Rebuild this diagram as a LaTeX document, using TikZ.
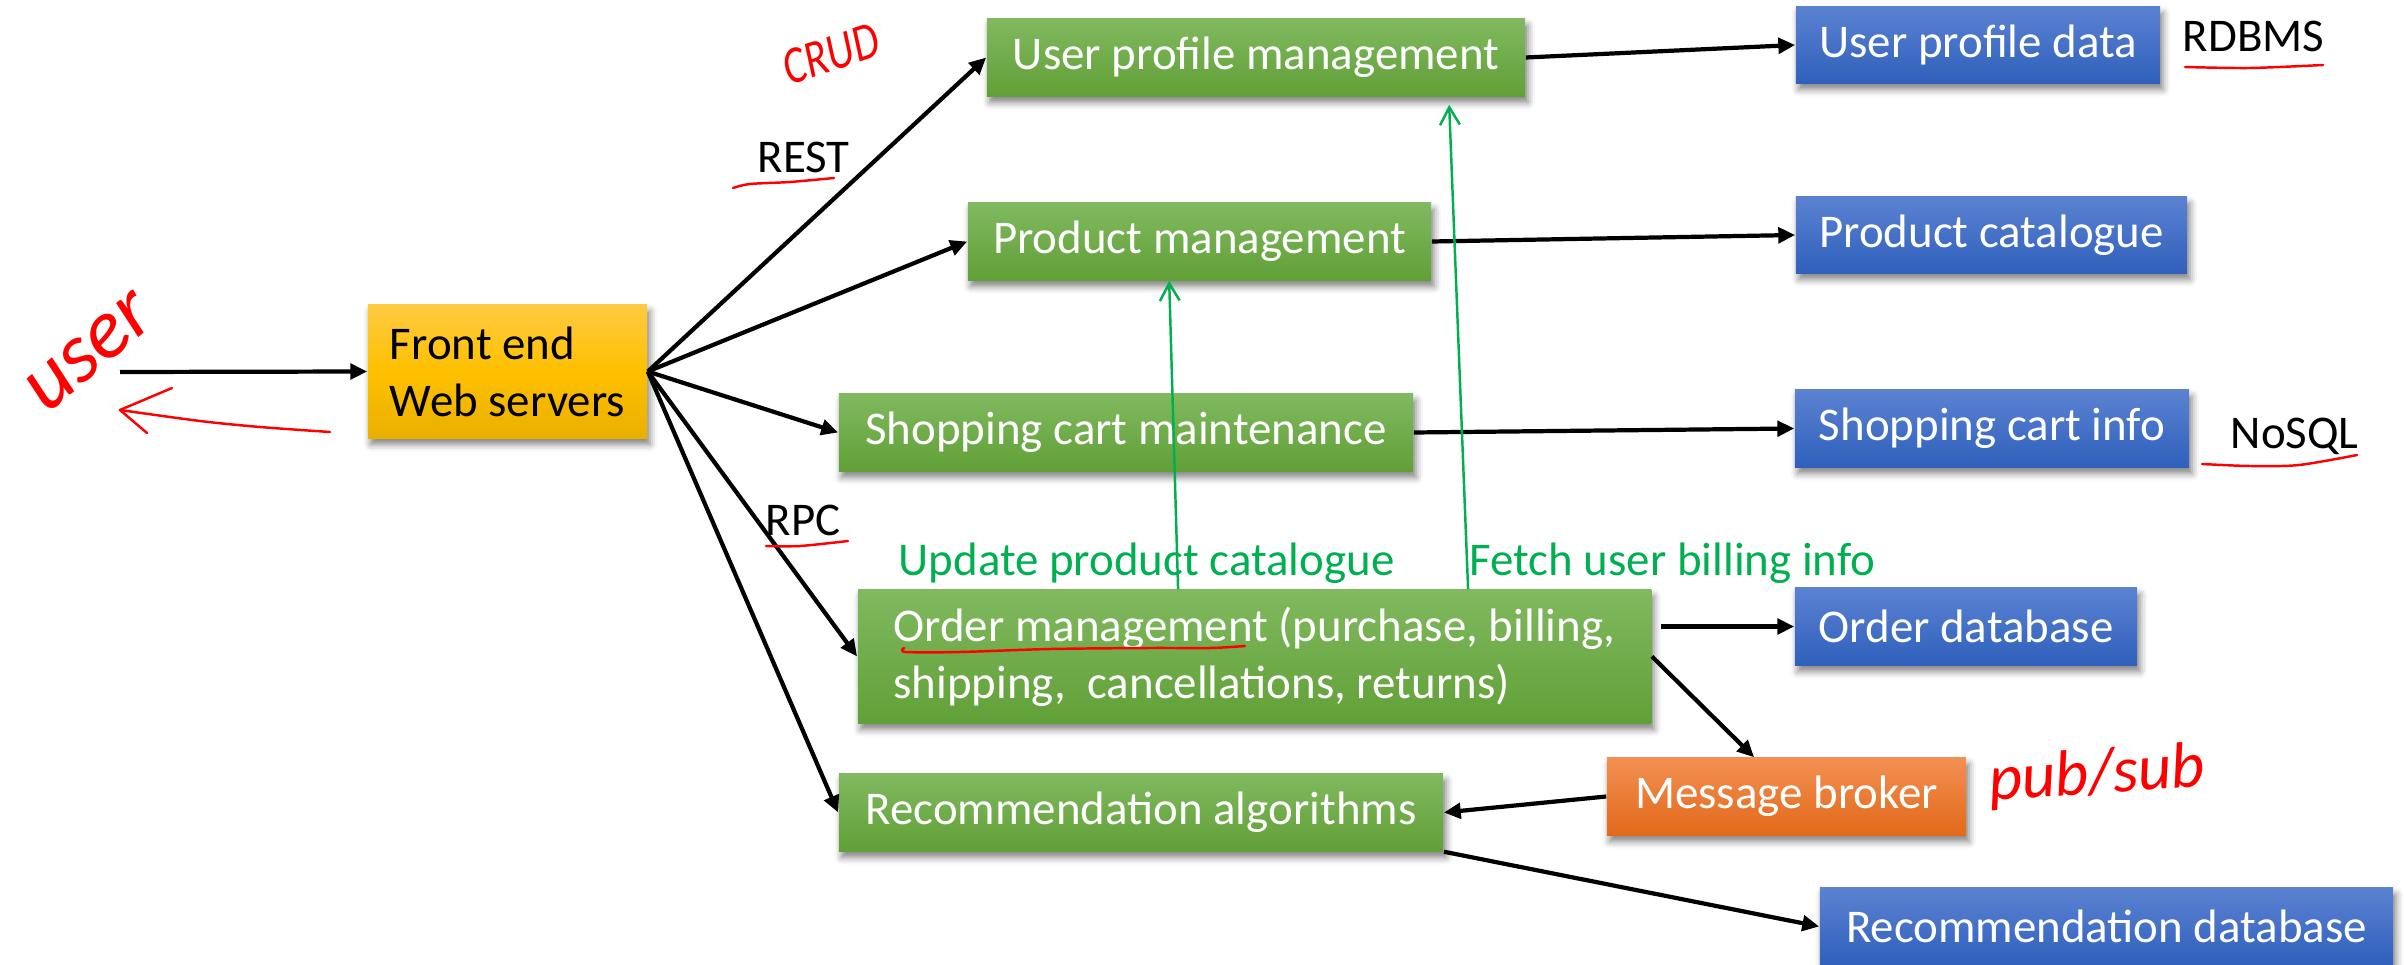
\documentclass[tikz,border=0pt]{standalone}
\usepackage{fontspec}
\setmainfont{Carlito}
\usetikzlibrary{arrows.meta,calc,shadows.blur}

\definecolor{ytop}{HTML}{FFCA42}
\definecolor{ymid}{HTML}{FFC000}
\definecolor{ybot}{HTML}{E9B000}
\definecolor{gtop}{HTML}{80B95F}
\definecolor{gbot}{HTML}{61A037}
\definecolor{btop}{HTML}{5B82D1}
\definecolor{bbot}{HTML}{2F60BC}
\definecolor{otop}{HTML}{F29052}
\definecolor{obot}{HTML}{E2691A}
\definecolor{notegreen}{HTML}{00B050}
\definecolor{pen}{HTML}{FF0000}

\newcommand{\boxfont}{\fontsize{13.34pt}{16.2pt}\selectfont}

\tikzset{
  box/.style={rectangle, inner sep=0pt, text=white, font=\boxfont,
    blur shadow={shadow xshift=0.8pt, shadow yshift=-1.8pt,
                 shadow blur radius=2pt, shadow opacity=50}},
  yellowbox/.style={box, text=black, top color=ytop, bottom color=ybot, middle color=ymid},
  greenbox/.style={box, top color=gtop, bottom color=gbot},
  bluebox/.style={box, top color=btop, bottom color=bbot},
  orangebox/.style={box, top color=otop, bottom color=obot},
  flow/.style={line width=1.2pt, -{Triangle[length=4.8pt,width=4.4pt]}},
  uses/.style={notegreen, line width=0.7pt, -{Straight Barb[length=5pt,width=5.6pt]}},
  tag/.style={inner sep=0pt, anchor=base west, font=\boxfont},
  greentag/.style={tag, text=notegreen},
  ink/.style={pen, line width=0.7pt, line cap=round, line join=round},
  scribble/.style={inner sep=0pt, text=pen, font=\itshape},
}

\begin{document}
\begin{tikzpicture}[x=0.01cm, y=-0.01cm]
\useasboundingbox (0,0) rectangle (2404,964);

% services and stores
\node[yellowbox, minimum width=2.79cm, minimum height=1.33cm, align=left] (fe) at (507.5,371.5) {Front end\\Web servers};
\node[greenbox, minimum width=5.38cm, minimum height=0.77cm] (upm) at (1256,57.5) {User profile management};
\node[greenbox, minimum width=4.63cm, minimum height=0.77cm] (pm) at (1199.5,241.5) {Product management};
\node[greenbox, minimum width=5.74cm, minimum height=0.77cm] (scm) at (1126,432.5) {Shopping cart maintenance};
\node[greenbox, minimum width=7.93cm, minimum height=1.33cm, align=left] (om) at (1254.5,656.5) {Order management (purchase, billing,\\shipping,\ \ cancellations, returns)};
\node[greenbox, minimum width=6.04cm, minimum height=0.77cm] (ra) at (1141,812.5) {Recommendation algorithms};
\node[bluebox, minimum width=3.64cm, minimum height=0.76cm] (upd) at (1978,45) {User profile data};
\node[bluebox, minimum width=3.91cm, minimum height=0.76cm] (pc) at (1991.5,235) {Product catalogue};
\node[bluebox, minimum width=3.94cm, minimum height=0.77cm] (sci) at (1992,428.5) {Shopping cart info};
\node[bluebox, minimum width=3.42cm, minimum height=0.77cm] (od) at (1966,626.5) {Order database};
\node[orangebox, minimum width=3.59cm, minimum height=0.77cm] (mb) at (1786.5,796.5) {Message broker};
\node[bluebox, minimum width=5.73cm, minimum height=0.77cm] (rd) at (2106.5,926.5) {Recommendation database};

% printed labels
\node[tag] (rest) at (757,173) {REST};
\node[tag] (rpc) at (765,535) {RPC};
\node[tag] (rdbms) at (2182,52) {RDBMS};
\node[tag] (nosql) at (2230,448) {NoSQL};
\node[greentag] (upc) at (898,575) {Update product catalogue};
\node[greentag] (fub) at (1469,575) {Fetch user billing info};

% request flow
\coordinate (client) at (120,372);
\draw[flow] (client) -- (fe.west);
\draw[flow] (fe.east) -- (upm.west);
\draw[flow] (fe.east) -- (pm.west);
\draw[flow] (fe.east) -- (scm.west);
\draw[flow] (fe.east) -- (om.west);
\draw[flow] (fe.east) -- (ra.west);
\draw[flow] (upm.east) -- (upd.west);
\draw[flow] (pm.east) -- (pc.west);
\draw[flow] (scm.east) -- (sci.west);
\draw[flow] ($(om.east |- od.west)+(9,0)$) -- (od.west);
\draw[flow] (om.east) -- ($(mb.north west)!0.41!(mb.north east)$);
\draw[flow] (mb.west) -- (ra.east);
\draw[flow] (ra.south east) -- (rd.west);

% calls from order management
\draw[uses] ($(om.north west)+(321,0)$) -- ($(pm.south west)+(202,0)$);
\draw[uses] ($(om.north west)+(611,0)$) -- ($(upm.south west)+(463,8)$);

% pen notes
\node[scribble, rotate=40, font=\itshape\fontsize{24pt}{24pt}\selectfont] (usernote) at (90,352) {user};
\node[scribble, rotate=18, xscale=0.8, font=\itshape\fontsize{15pt}{15pt}\selectfont] (crud) at (831,54) {CRUD};
\node[scribble, rotate=4, font=\itshape\fontsize{18.5pt}{18.5pt}\selectfont] (pubsub) at (2097,776) {pub/sub};

% returning response
\draw[ink] plot[smooth] coordinates {(330,432) (260,427) (200,421) (120,410)};
\draw[ink] (172,388) -- (120,410) -- (147,433);

% underlines
\draw[ink] plot[smooth] coordinates {(733,188) (750,184) (790,182) (834,178)};
\draw[ink] plot[smooth] coordinates {(766,546) (800,546) (848,541)};
\draw[ink] plot[smooth] coordinates {(2185,67) (2250,68) (2323,65)};
\draw[ink] plot[smooth] coordinates {(2202,464) (2250,466) (2299,465) (2357,455)};
\draw[ink] plot[smooth] coordinates {(904,648) (906,652) (960,652) (1050,649) (1150,648) (1210,648) (1245,646)};
\end{tikzpicture}
\end{document}
